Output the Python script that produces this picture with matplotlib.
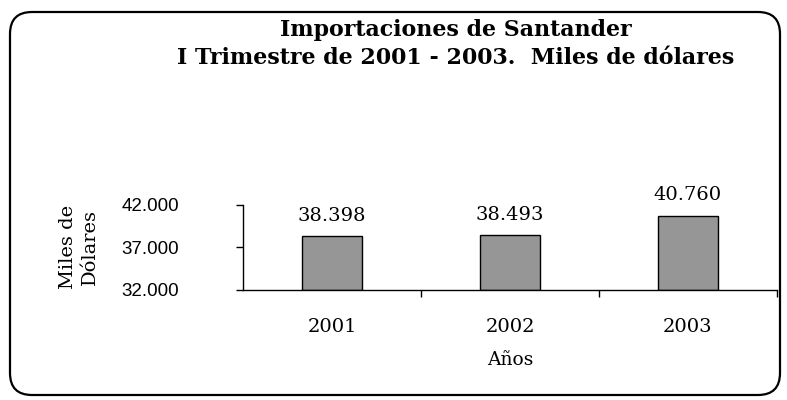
import matplotlib
matplotlib.use("Agg")
import matplotlib.pyplot as plt
from matplotlib.patches import FancyBboxPatch
import numpy as np

years = ["2001", "2002", "2003"]
values = [38398, 38493, 40760]
value_labels = ["38.398", "38.493", "40.760"]
yticks = [32000, 37000, 42000]
ytick_labels = ["32.000", "37.000", "42.000"]

fig = plt.figure(figsize=(7.87, 4.0), dpi=100)
W, H = 787, 400

# rounded border (in inches)
fig.patches.append(FancyBboxPatch((0.10, 0.05), 7.70, 3.83,
                                  boxstyle="round,pad=0,rounding_size=0.22",
                                  transform=fig.dpi_scale_trans, fill=False,
                                  edgecolor="black", linewidth=1.6))

ax = fig.add_axes([243 / W, 1 - 290 / H, (777 - 243) / W, (290 - 205) / H])
x = np.arange(len(years))
ax.bar(x, [v - 32000 for v in values], bottom=32000, width=0.34,
       color="#969696", edgecolor="black", linewidth=1.0)
ax.set_xlim(-0.5, 2.5)
ax.set_ylim(32000, 42000)
for s in ["top", "right"]:
    ax.spines[s].set_visible(False)
ax.spines["left"].set_linewidth(1.0)
ax.spines["bottom"].set_linewidth(1.0)

ax.set_yticks(yticks)
ax.set_yticklabels(ytick_labels, fontfamily="Liberation Sans", fontsize=13.5)
ax.tick_params(axis="y", length=5, width=1, pad=41)

ax.set_xticks(x)
ax.set_xticklabels(years, fontfamily="DejaVu Serif", fontsize=14)
ax.tick_params(axis="x", which="major", length=0, pad=20)
ax.set_xticks([0.5, 1.5, 2.5], minor=True)
ax.tick_params(axis="x", which="minor", length=5, width=1)

for xi, v, lab in zip(x, values, value_labels):
    ax.annotate(lab, (xi, v), xytext=(0, 8), textcoords="offset points",
                ha="center", va="bottom", fontfamily="DejaVu Serif", fontsize=14)

fig.text(510 / W, 1 - 360 / H, "Años", ha="center", va="center",
         fontfamily="DejaVu Serif", fontsize=13.5)
fig.text(79 / W, 1 - 247 / H, "Miles de\nDólares", ha="center", va="center",
         rotation=90, fontfamily="DejaVu Serif", fontsize=14, linespacing=1.3)

t1 = fig.text(456 / W, 1 - 30 / H, "Importaciones de Santander", ha="center", va="center",
              fontfamily="DejaVu Serif", fontweight="bold", fontsize=15)
t2 = fig.text(456 / W, 1 - 58 / H, "I Trimestre de 2001 - 2003.  Miles de dólares",
              ha="center", va="center",
              fontfamily="DejaVu Serif", fontweight="bold", fontsize=15)
# scale title font so the second line spans the same width as in the reference
r = fig.canvas.get_renderer()
w2 = t2.get_window_extent(r).width
fs = 15 * 562 / w2
t1.set_fontsize(fs)
t2.set_fontsize(fs)

fig.savefig("out.png", dpi=100)
